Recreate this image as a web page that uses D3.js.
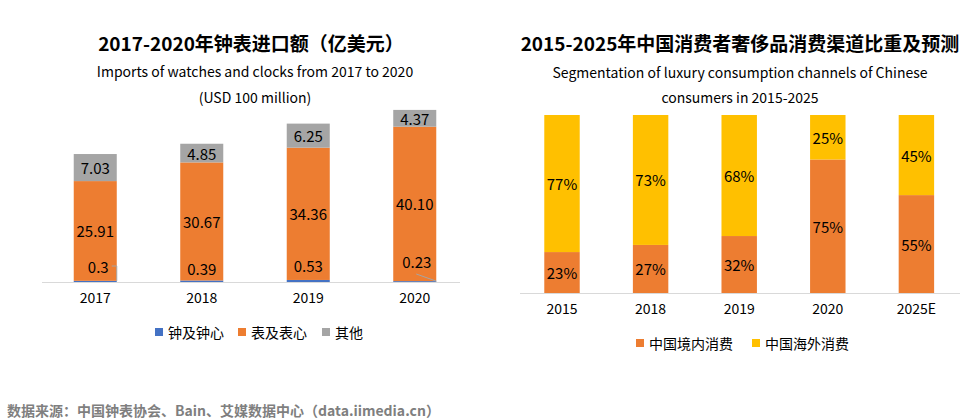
<!DOCTYPE html>
<html><head><meta charset="utf-8">
<script src="https://cdn.jsdelivr.net/npm/d3@7/dist/d3.min.js"></script>
<style>
html,body{margin:0;padding:0;background:#fff;}
svg{display:block;font-family:"Noto Sans CJK SC","Noto Sans",sans-serif;}
</style></head>
<body>
<svg id="c" width="978" height="420"></svg>
<script>
// Left chart data
const years1 = ["2017", "2018", "2019", "2020"];
const clocks = [0.3, 0.39, 0.53, 0.23];
const watches = [25.91, 30.67, 34.36, 40.10];
const others = [7.03, 4.85, 6.25, 4.37];
const clockLabels = ["0.3", "0.39", "0.53", "0.23"];
const watchLabels = ["25.91", "30.67", "34.36", "40.10"];
const otherLabels = ["7.03", "4.85", "6.25", "4.37"];
const series1 = ["钟及钟心", "表及表心", "其他"];

// Right chart data
const years2 = ["2015", "2018", "2019", "2020", "2025E"];
const domestic = [23, 27, 32, 75, 55];
const overseas = [77, 73, 68, 25, 45];
const series2 = ["中国境内消费", "中国海外消费"];

const C = {blue:"#4472C4", orange:"#ED7D31", gray:"#A5A5A5", yellow:"#FFC000", axis:"#D9D9D9", text:"#000"};
const svg = d3.select("#c");

// ---------- Titles ----------
function txt(x, y, s, size, weight, fill, anchor) {
  return svg.append("text").attr("x", x).attr("y", y).attr("text-anchor", anchor || "middle")
    .attr("dominant-baseline", "central").attr("font-size", size).attr("font-weight", weight || 400)
    .attr("fill", fill || "#000").text(s);
}
txt(251, 42, "2017-2020年钟表进口额（亿美元）", 19, 700, "#000");
txt(255, 71, "Imports of watches and clocks from 2017 to 2020", 14, 400, "#000");
txt(255, 97, "(USD 100 million)", 14, 400, "#000");
txt(740, 42, "2015-2025年中国消费者奢侈品消费渠道比重及预测", 19, 700, "#000");
txt(740, 72, "Segmentation of luxury consumption channels of Chinese", 14, 400, "#000");
txt(740, 97, "consumers in 2015-2025", 14, 400, "#000");

// ---------- Left chart ----------
const x1 = d3.scaleBand().domain(years1).range([42, 468]).paddingInner(0.596).paddingOuter(0.298);
const y1 = d3.scaleLinear().domain([0, 50]).range([282, 89.5]);
const g1 = svg.append("g");
const stack1 = years1.map((yr, i) => {
  const a = clocks[i], b = watches[i], c = others[i];
  return [
    {yr, s: 0, y0: 0, y1: a, col: C.blue},
    {yr, s: 1, y0: a, y1: a + b, col: C.orange},
    {yr, s: 2, y0: a + b, y1: a + b + c, col: C.gray}
  ];
}).flat();
g1.selectAll("rect.seg").data(stack1).join("rect").attr("class", "seg")
  .attr("x", d => x1(d.yr)).attr("width", x1.bandwidth())
  .attr("y", d => y1(d.y1)).attr("height", d => y1(d.y0) - y1(d.y1))
  .attr("fill", d => d.col);

// axis
const ax1 = d3.axisBottom(x1).tickSize(0).tickPadding(11);
const a1 = g1.append("g").attr("transform", "translate(0,282)").call(ax1);
a1.select(".domain").attr("stroke", C.axis).attr("d", "M42,0.5H460");
a1.selectAll("text").attr("font-size", 14).attr("fill", "#000").attr("font-family", "Noto Sans CJK SC");

// value labels
years1.forEach((yr, i) => {
  const cx = x1(yr) + x1.bandwidth() / 2;
  const a = clocks[i], b = watches[i], c = others[i];
  txt(cx, (y1(a) + y1(a + b)) / 2, watchLabels[i], 15, 400, "#000");
  txt(cx, (y1(a + b) + y1(a + b + c)) / 2, otherLabels[i], 15, 400, "#000");
});
// clock labels (offset above base with leader lines)
const clkOff = [[3, -16], [0, -14], [0, -17], [2, -21]];
years1.forEach((yr, i) => {
  const cx = x1(yr) + x1.bandwidth() / 2;
  txt(cx + clkOff[i][0], y1(0) + clkOff[i][1], clockLabels[i], 15, 400, "#000");
});
// leader lines
(function () {
  const bx0 = x1("2017") + x1.bandwidth();
  g1.append("path").attr("fill", "none").attr("stroke", "#A5A5A5").attr("stroke-width", 1)
    .attr("d", `M${bx0 - 5},${y1(0) - 16}H${bx0}V${y1(clocks[0])}`);
  const bx3 = x1("2020") + x1.bandwidth();
  g1.append("path").attr("fill", "none").attr("stroke", "#A5A5A5").attr("stroke-width", 1)
    .attr("d", `M${bx3 - 20},${y1(0) - 8}L${bx3},${y1(clocks[3])}`);
})();

// legend left
const leg1 = [{n: series1[0], c: C.blue, x: 155}, {n: series1[1], c: C.orange, x: 238}, {n: series1[2], c: C.gray, x: 322}];
leg1.forEach(d => {
  svg.append("rect").attr("x", d.x).attr("y", 328).attr("width", 8).attr("height", 8).attr("fill", d.c);
  txt(d.x + 13, 332, d.n, 14, 400, "#000", "start");
});

// ---------- Right chart ----------
const x2 = d3.scaleBand().domain(years2).range([517.7, 960.7]).paddingInner(0.6).paddingOuter(0.3);
const y2 = d3.scaleLinear().domain([0, 100]).range([293, 115]);
const g2 = svg.append("g");
const stack2 = years2.map((yr, i) => [
  {yr, y0: 0, y1: domestic[i], col: C.orange, lab: domestic[i] + "%"},
  {yr, y0: domestic[i], y1: domestic[i] + overseas[i], col: C.yellow, lab: overseas[i] + "%"}
]).flat();
g2.selectAll("rect.seg").data(stack2).join("rect").attr("class", "seg")
  .attr("x", d => x2(d.yr)).attr("width", x2.bandwidth())
  .attr("y", d => y2(d.y1)).attr("height", d => y2(d.y0) - y2(d.y1))
  .attr("fill", d => d.col);
const ax2 = d3.axisBottom(x2).tickSize(0).tickPadding(11);
const a2 = g2.append("g").attr("transform", "translate(0,293)").call(ax2);
a2.select(".domain").attr("stroke", C.axis).attr("d", "M520,0.5H960");
a2.selectAll("text").attr("font-size", 14).attr("fill", "#000").attr("font-family", "Noto Sans CJK SC");
stack2.forEach(d => {
  txt(x2(d.yr) + x2.bandwidth() / 2, (y2(d.y0) + y2(d.y1)) / 2, d.lab, 15, 400, "#000");
});

// legend right
const leg2 = [{n: series2[0], c: C.orange, x: 636}, {n: series2[1], c: C.yellow, x: 752}];
leg2.forEach(d => {
  svg.append("rect").attr("x", d.x).attr("y", 339).attr("width", 8).attr("height", 8).attr("fill", d.c);
  txt(d.x + 13, 343, d.n, 14, 400, "#000", "start");
});

// source
txt(7, 410, "数据来源：中国钟表协会、Bain、艾媒数据中心（data.iimedia.cn）", 14, 700, "#7F7F7F", "start");
</script>
</body></html>
